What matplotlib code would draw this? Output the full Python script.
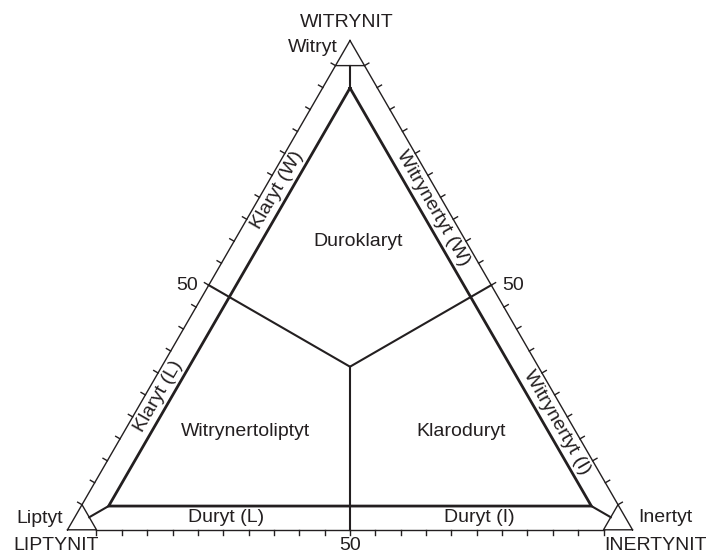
import numpy as np
import matplotlib.pyplot as plt

plt.rcParams['font.family'] = ['Liberation Sans', 'DejaVu Sans']

# wierzcholki trojkata: W (gora), L (lewy), I (prawy)
grupy = ["WITRYNIT", "LIPTYNIT", "INERTYNIT"]
macerały = ["Witryt", "Liptyt", "Inertyt"]
podzialka = np.arange(0, 101, 5)          # % na bokach
etykiety_podz = {50: "50"}

# granice pol (sklad W, L, I)
srodek = (1/3, 1/3, 1/3)
granice = [(0.5, 0.5, 0.0), (0.5, 0.0, 0.5), (0.0, 0.5, 0.5)]

pola = ["Duroklaryt", "Witrynertoliptyt", "Klaroduryt"]
pola_sklad = [(0.59, 0.19, 0.22), (0.20, 0.585, 0.215), (0.20, 0.204, 0.596)]

# opisy pasow: bok (od, do), polozenie na boku
pasy = ["Klaryt (L)", "Klaryt (W)", "Witrynertyt (I)", "Witrynertyt (W)", "Duryt (L)", "Duryt (I)"]
pasy_bok = [(1, 0), (1, 0), (2, 0), (2, 0), (1, 2), (1, 2)]
pasy_poz = [0.26, 0.73, 0.20, 0.69, 0.256, 0.756]

# geometria (piksele)
C = np.array([350.0, 366.7])
R_out = 326.2
R_in = 278.7
k = 0.0513
kol = '#231f20'

kier = np.array([[0.0, -1.0], [-np.sqrt(3)/2, 0.5], [np.sqrt(3)/2, 0.5]])


def tern(s, R=R_out):
    s = np.array(s, dtype=float)
    return C + R * (s @ kier)


V = [C + R_out * kier[i] for i in range(3)]
Vin = [C + R_in * kier[i] for i in range(3)]


def bok(a, b):
    st = V[a] + k * (V[b] - V[a])
    en = V[b] + k * (V[a] - V[b])
    return st, en


fig = plt.figure(figsize=(7.11, 5.55), dpi=100)
ax = fig.add_axes([0, 0, 1, 1])
ax.set_xlim(0, 711)
ax.set_ylim(555, 0)
ax.axis('off')

# boki zewnetrzne z podzialka
for a, b in [(1, 0), (2, 0), (1, 2)]:
    st, en = bok(a, b)
    ax.plot([st[0], en[0]], [st[1], en[1]], color=kol, lw=1.0)
    mid = (st + en) / 2
    n = (mid - C) / np.linalg.norm(mid - C)
    for t in podzialka:
        p = st + t / 100 * (en - st)
        q = p + 5 * n
        ax.plot([p[0], q[0]], [p[1], q[1]], color=kol, lw=1.0)

# male trojkaty w narozach + laczniki
for i in range(3):
    j, m = [x for x in range(3) if x != i]
    a = V[i]
    b = V[i] + k * (V[j] - V[i])
    c = V[i] + k * (V[m] - V[i])
    ax.plot([a[0], b[0], c[0], a[0]], [a[1], b[1], c[1], a[1]], color=kol, lw=1.0)
    s = (b + c) / 2
    ax.plot([s[0], Vin[i][0]], [s[1], Vin[i][1]], color=kol, lw=1.5)

# trojkat wewnetrzny
xs = [p[0] for p in Vin] + [Vin[0][0]]
ys = [p[1] for p in Vin] + [Vin[0][1]]
ax.plot(xs, ys, color=kol, lw=2.0, solid_joinstyle='miter')

# granice pol
c0 = tern(srodek)
for g in granice:
    p = tern(g)
    ax.plot([c0[0], p[0]], [c0[1], p[1]], color=kol, lw=1.5)

fs = 14
# etykiety 50
pl = tern(granice[0])
ax.text(pl[0] - 11, pl[1], etykiety_podz[50], fontsize=fs, ha='right', va='center', color=kol)
pr = tern(granice[1])
ax.text(pr[0] + 11, pr[1], etykiety_podz[50], fontsize=fs, ha='left', va='center', color=kol)
pb = tern(granice[2])
ax.text(pb[0], pb[1] + 20.5, etykiety_podz[50], fontsize=fs, ha='center', va='baseline', color=kol)

# opisy wierzcholkow
ax.text(347, 27, grupy[0], fontsize=fs, ha='center', va='baseline', color=kol)
ax.text(338, 52, macerały[0], fontsize=fs, ha='right', va='baseline', color=kol)
ax.text(63, 523, macerały[1], fontsize=fs, ha='right', va='baseline', color=kol)
ax.text(56, 550.5, grupy[1], fontsize=fs, ha='center', va='baseline', color=kol)
ax.text(638, 522, macerały[2], fontsize=fs, ha='left', va='baseline', color=kol)
ax.text(656, 550.5, grupy[2], fontsize=fs, ha='center', va='baseline', color=kol)

# nazwy pol
for nazwa, s in zip(pola, pola_sklad):
    p = tern(s)
    ax.text(p[0], p[1], nazwa, fontsize=fs, ha='center', va='center', color=kol)

# opisy pasow
pol_pasa = (R_out - R_in) / 4
for nazwa, (a, b), f in zip(pasy, pasy_bok, pasy_poz):
    st, en = bok(a, b)
    mid = (st + en) / 2
    n = (mid - C) / np.linalg.norm(mid - C)
    p = st + f * (en - st) - pol_pasa * n
    d = en - st
    kat = np.degrees(np.arctan2(-d[1], d[0]))
    if kat > 90:
        kat -= 180
    elif kat <= -90:
        kat += 180
    ax.text(p[0], p[1], nazwa, fontsize=fs, ha='center', va='center',
            rotation=kat, rotation_mode='anchor', color=kol)

plt.savefig('out.png', dpi=100)
